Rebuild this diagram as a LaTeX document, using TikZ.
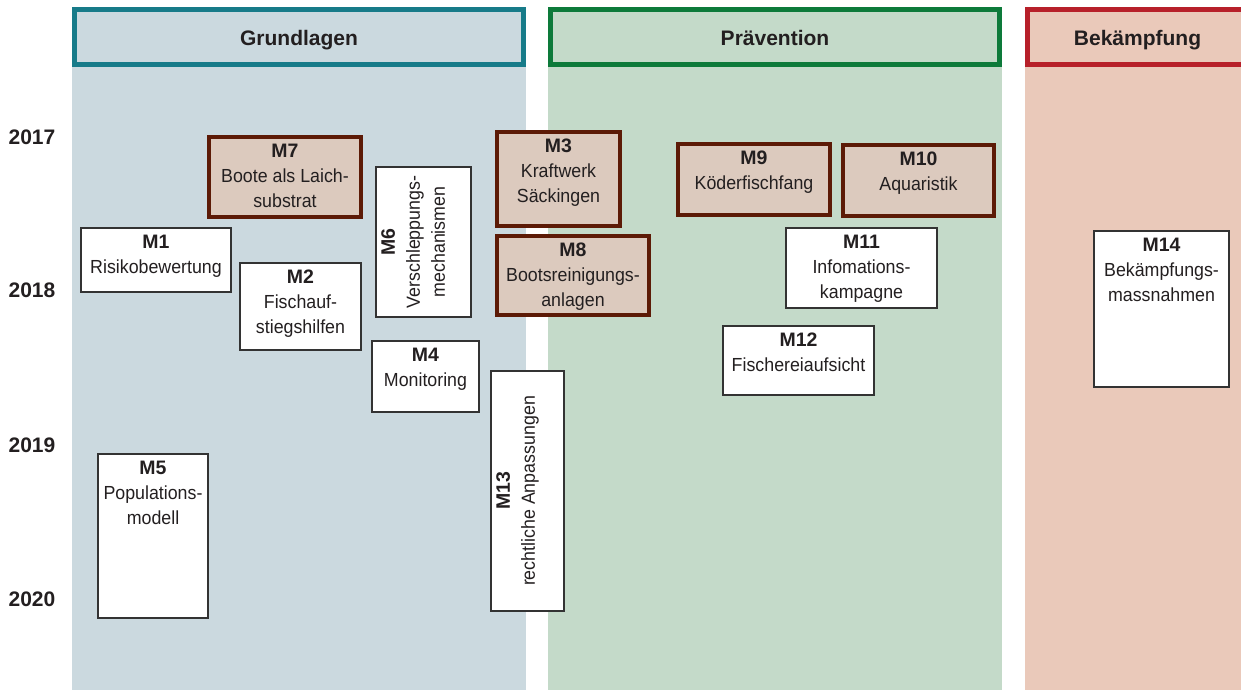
\documentclass[tikz,border=0pt]{standalone}
\usepackage{fontspec}
\setmainfont{Liberation Sans}
\newfontfamily\bodyf[FakeStretch=0.94]{Liberation Sans}
\newfontfamily\labf{Liberation Sans}
\usetikzlibrary{fit}
\definecolor{txtc}{HTML}{231F20}
\definecolor{bgA}{HTML}{CBD9DF}
\definecolor{bgB}{HTML}{C4DAC9}
\definecolor{bgC}{HTML}{EAC9BA}
\definecolor{brA}{HTML}{177B89}
\definecolor{brB}{HTML}{0D7A3A}
\definecolor{brC}{HTML}{B7202A}
\definecolor{brfill}{HTML}{DCCABE}
\definecolor{brline}{HTML}{5C1A06}
\definecolor{wline}{HTML}{333333}
\newcommand\mlab[1]{{\labf\bfseries\fontsize{14.6}{18.75}\selectfont #1}}
\tikzset{
  hdr/.style={draw, line width=3.75pt, inner sep=0},
  hdrtxt/.style={text=txtc, inner sep=0, anchor=base, yshift=-6pt,
    font={\bfseries\fontsize{15.75}{18}\selectfont}},
  yr/.style={text=txtc, inner sep=0, font={\bfseries\fontsize{15.75}{18}\selectfont}},
  wbox/.style={draw=wline, fill=white, line width=1.5pt, inner sep=0},
  bbox/.style={draw=brline, fill=brfill, line width=3pt, inner sep=0},
  txt/.style={text=txtc, inner sep=0, align=center,
    font={\bodyf\fontsize{14.2}{18.75}\selectfont}},
}
\begin{document}
\begin{tikzpicture}[x=0.75pt,y=-0.75pt]
\useasboundingbox (0,0) rectangle (1241,690);
\clip (0,0) rectangle (1241,690);
% columns
\fill[bgA] (72,7) rectangle (526,690);
\fill[bgB] (548,7) rectangle (1002,690);
\fill[bgC] (1025,7) rectangle (1300,690);
% headers
\node[hdr, draw=brA, fit={(74.5,9.5) (523.5,64.5)}] (hA) {};
\node[hdrtxt] (hAt) at (hA.center) {Grundlagen};
\node[hdr, draw=brB, fit={(550.5,9.5) (999.5,64.5)}] (hB) {};
\node[hdrtxt] (hBt) at (hB.center) {Prävention};
\node[hdr, draw=brC, fit={(1027.5,9.5) (1247.5,64.5)}] (hC) {};
\node[hdrtxt] (hCt) at (hC.center) {Bekämpfung};
% years
\node[yr] (y17) at (32,137) {2017};
\node[yr] (y18) at (32,290) {2018};
\node[yr] (y19) at (32,445) {2019};
\node[yr] (y20) at (32,599) {2020};
% boxes
\node[wbox, fit={(81,228) (231,292)}] (m1) {};
\node[txt, anchor=north] (m1t) at ([yshift=-6pt]m1.north) {\mlab{M1}\\Risikobewertung};
\node[wbox, fit={(240,263) (361,350)}] (m2) {};
\node[txt, anchor=north] (m2t) at ([yshift=-6pt]m2.north) {\mlab{M2}\\Fischauf-\\stiegshilfen};
\node[bbox, fit={(209,137) (361,217)}] (m7) {};
\node[txt, anchor=north] (m7t) at ([yshift=-6.5pt]m7.north) {\mlab{M7}\\Boote als Laich-\\substrat};
\node[wbox, fit={(376,167) (471,317)}] (m6) {};
\node[txt, anchor=north, rotate=90] (m6t) at ([xshift=4.5pt]m6.west) {\mlab{M6}\\Verschleppungs-\\mechanismen};
\node[wbox, fit={(372,341) (479,412)}] (m4) {};
\node[txt, anchor=north] (m4t) at ([yshift=-6pt]m4.north) {\mlab{M4}\\Monitoring};
\node[bbox, fit={(497,132) (620,226)}] (m3) {};
\node[txt, anchor=north] (m3t) at ([yshift=-6.5pt]m3.north) {\mlab{M3}\\Kraftwerk\\Säckingen};
\node[bbox, fit={(497,236) (649,315)}] (m8) {};
\node[txt, anchor=north] (m8t) at ([yshift=-6.5pt]m8.north) {\mlab{M8}\\Bootsreinigungs-\\anlagen};
\node[wbox, fit={(491,371) (564,611)}] (m13) {};
\node[txt, anchor=north, rotate=90] (m13t) at ([xshift=4.5pt]m13.west) {\mlab{M13}\\rechtliche Anpassungen};
\node[wbox, fit={(98,454) (208,618)}] (m5) {};
\node[txt, anchor=north] (m5t) at ([yshift=-6pt]m5.north) {\mlab{M5}\\Populations-\\modell};
\node[bbox, fit={(678,144) (830,215)}] (m9) {};
\node[txt, anchor=north] (m9t) at ([yshift=-6.5pt]m9.north) {\mlab{M9}\\Köderfischfang};
\node[bbox, fit={(843,145) (994,216)}] (m10) {};
\node[txt, anchor=north] (m10t) at ([yshift=-6.5pt]m10.north) {\mlab{M10}\\Aquaristik};
\node[wbox, fit={(786,228) (937,308)}] (m11) {};
\node[txt, anchor=north] (m11t) at ([yshift=-6pt]m11.north) {\mlab{M11}\\Infomations-\\kampagne};
\node[wbox, fit={(723,326) (874,395)}] (m12) {};
\node[txt, anchor=north] (m12t) at ([yshift=-6pt]m12.north) {\mlab{M12}\\Fischereiaufsicht};
\node[wbox, fit={(1094,231) (1229,387)}] (m14) {};
\node[txt, anchor=north] (m14t) at ([yshift=-6pt]m14.north) {\mlab{M14}\\Bekämpfungs-\\massnahmen};
\end{tikzpicture}
\end{document}
